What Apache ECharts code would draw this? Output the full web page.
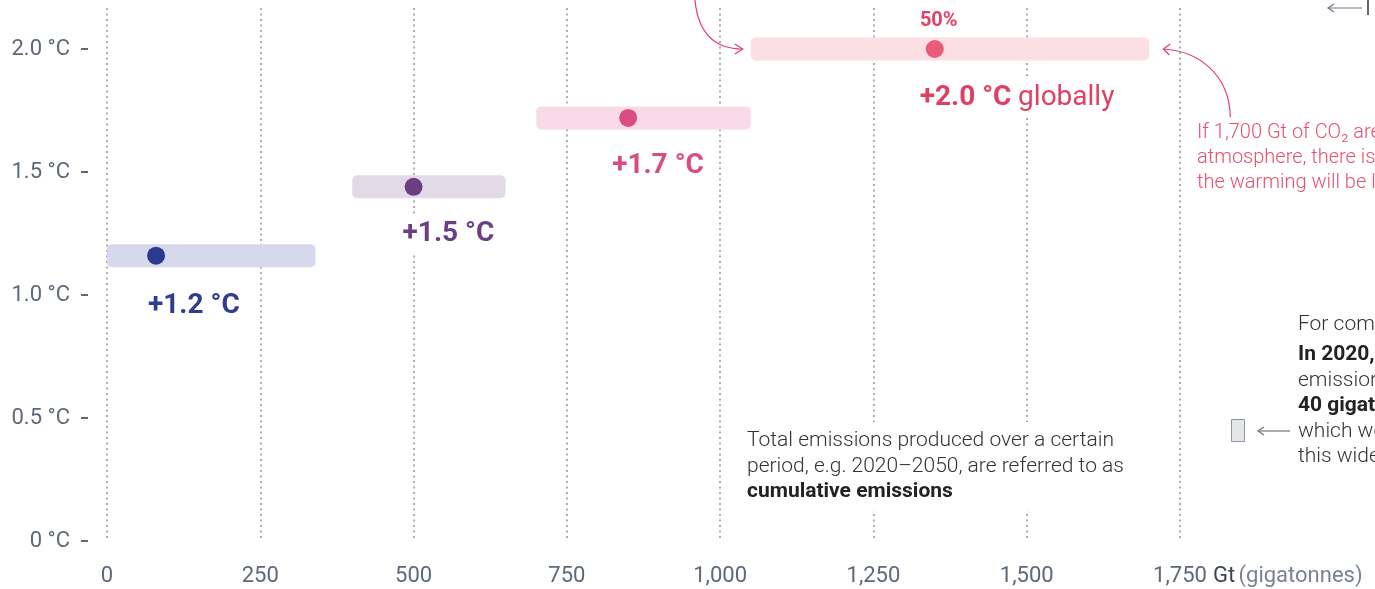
<!DOCTYPE html>
<html>
<head>
<meta charset="utf-8">
<script src="https://cdn.jsdelivr.net/npm/echarts@6/dist/echarts.min.js"></script>
<style>
html,body{margin:0;padding:0;background:#fff;}
#c{width:1375px;height:589px;}
</style>
</head>
<body>
<div id="c"></div>
<script>
// ---- data ----
const rangeLow  = [0, 400, 700, 1050];        // Gt, start of range
const rangeHigh = [340, 650, 1050, 1700];     // Gt, end of range
const centerGt  = [80, 500, 850, 1350];       // Gt, dot position
const warming   = [1.16, 1.44, 1.72, 2.0];    // °C
const labelMain = ['+1.2 °C', '+1.5 °C', '+1.7 °C', '+2.0 °C'];
const labelExtra = ['', '', '', 'globally'];
const probLabels = ['', '', '', '50%'];
const xTicks = [0, 250, 500, 750, 1000, 1250, 1500, 1750];
const yTicks = [0, 0.5, 1.0, 1.5, 2.0];

// ---- styles ----
const rangeColors = ['#d6d9ec', '#e3dae7', '#f8dbe6', '#fcdfe4'];
const dotColors   = ['#2b3a90', '#6b3e84', '#d94d83', '#e95b77'];
const textColors  = ['#2e3d8f', '#6b3f85', '#d94c83', '#e23d62'];
const labelShiftX = [-5, -8, -13, -12];   // label placement relative to the dot box (px)
const labelShiftY = [59, 56, 57, 58];
const FONT = 'Roboto, "Noto Sans", sans-serif';
const AXIS_GRAY = '#5d6878';
const RED = '#e4406a';

const chart = echarts.init(document.getElementById('c'), null, {renderer: 'canvas'});

const rangeData = rangeLow.map((lo, i) => [lo, rangeHigh[i], warming[i]]);
const dotData = centerGt.map((x, i) => ({
  value: [x, warming[i]],
  itemStyle: {color: dotColors[i], opacity: 1},
  label: {
    position: [labelShiftX[i], labelShiftY[i]],
    formatter: labelExtra[i] ? '{b|' + labelMain[i] + '}  {r|' + labelExtra[i] + '}' : '{b|' + labelMain[i] + '}',
    rich: {
      b: {fontFamily: FONT, fontSize: 28, fontWeight: 'bold', color: textColors[i], opacity: 1},
      r: {fontFamily: FONT, fontSize: 28, fontWeight: 'normal', color: textColors[i], opacity: 1}
    }
  }
}));
const probData = centerGt.map((x, i) => ({value: [x, warming[i]], name: probLabels[i]}));

const yMax = 2.1667;

chart.setOption({
  animation: false,
  grid: {left: 107, width: 1073, top: 8, bottom: 48, containLabel: false},
  xAxis: {
    type: 'value', min: 0, max: 1750, interval: 250,
    axisLine: {show: false}, axisTick: {show: false},
    axisLabel: {
      margin: 24, fontFamily: FONT, fontSize: 22, fontWeight: 'normal', color: AXIS_GRAY,
      formatter: v => v.toLocaleString('en-US')
    },
    splitLine: {show: true, lineStyle: {color: '#8a93a3', width: 1.5, type: [2, 3.5]}},
    name: '{a|Gt} {b|(gigatonnes)}',
    nameLocation: 'end', nameGap: 33,
    nameTextStyle: {
      verticalAlign: 'middle', padding: [70, 0, 0, 0],
      rich: {
        a: {fontFamily: FONT, fontSize: 22, color: '#3d4450'},
        b: {fontFamily: FONT, fontSize: 22, fontWeight: 'normal', color: '#7a8291'}
      }
    }
  },
  yAxis: [{
    type: 'value', min: 0, max: yMax,
    axisLine: {show: false}, axisTick: {show: false}, splitLine: {show: false},
    axisLabel: {
      customValues: yTicks, margin: 37,
      fontFamily: FONT, fontSize: 22, fontWeight: 'normal', color: AXIS_GRAY,
      formatter: v => (v === 0 ? '0' : v.toFixed(1)) + ' °C'
    }
  }, {
    type: 'value', min: 0, max: yMax, position: 'left', offset: 19,
    axisLine: {show: false}, splitLine: {show: false},
    axisLabel: {show: false},
    axisTick: {show: true, customValues: yTicks, length: 7, inside: false, lineStyle: {color: AXIS_GRAY, width: 2}}
  }],
  series: [{
    type: 'custom',
    z: 1,
    data: rangeData,
    clip: false,
    renderItem: function (params, api) {
      const s = api.coord([api.value(0), api.value(2)]);
      const e = api.coord([api.value(1), api.value(2)]);
      return {
        type: 'rect',
        shape: {x: s[0], y: s[1] - 11.5, width: e[0] - s[0], height: 23, r: 5},
        style: {fill: rangeColors[params.dataIndex]}
      };
    }
  }, {
    type: 'scatter',
    z: 3,
    symbolSize: 18,
    data: dotData,
    clip: false,
    itemStyle: {opacity: 1},
    label: {
      show: true, align: 'left', verticalAlign: 'middle',
      backgroundColor: '#fff', padding: [6, 6]
    },
    emphasis: {disabled: true}
  }, {
    type: 'scatter',
    z: 4,
    symbolSize: 0,
    data: probData,
    clip: false,
    itemStyle: {opacity: 1},
    label: {
      show: true, position: 'top', distance: 18, offset: [4, 0],
      formatter: p => p.name,
      fontFamily: FONT, fontSize: 20, fontWeight: 'bold', color: RED
    },
    emphasis: {disabled: true}
  }]
});

// ---- annotations anchored to the chart ----
const leftEnd = chart.convertToPixel({gridIndex: 0}, [rangeLow[3], warming[3]]);
const rightEnd = chart.convertToPixel({gridIndex: 0}, [rangeHigh[3], warming[3]]);

const lx = leftEnd[0] - 8, ly = leftEnd[1];
const rx = rightEnd[0] + 14, ry = rightEnd[1];

const bodyText = {fontFamily: FONT, fontSize: 21, fontWeight: 300};

chart.setOption({
  graphic: [
    // arrow to left end of the 2.0 °C range
    {type: 'bezierCurve', z: 100, shape: {x1: lx - 48, y1: -2, cpx1: lx - 45, cpy1: ly - 12, cpx2: lx - 25, cpy2: ly, x2: lx, y2: ly},
     style: {stroke: RED, lineWidth: 1.2, fill: null}},
    {type: 'polyline', z: 100, shape: {points: [[lx - 8, ly - 5], [lx, ly], [lx - 8, ly + 5]]},
     style: {stroke: RED, lineWidth: 1.2, fill: null}},
    // arrow to right end of the 2.0 °C range
    {type: 'bezierCurve', z: 100, shape: {x1: rx + 67, y1: ry + 68, cpx1: rx + 66, cpy1: ry + 25, cpx2: rx + 35, cpy2: ry + 2, x2: rx, y2: ry},
     style: {stroke: RED, lineWidth: 1.2, fill: null}},
    {type: 'polyline', z: 100, shape: {points: [[rx + 7, ry - 5], [rx, ry], [rx + 6, ry + 6]]},
     style: {stroke: RED, lineWidth: 1.2, fill: null}},
    // red explanatory text
    {type: 'text', z: 100, x: 1197, y: 120.5,
     style: Object.assign({}, bodyText, {fontSize: 20, fill: '#e8506e', lineHeight: 25,
       text: 'If 1,700 Gt of CO₂ are released into the\natmosphere, there is a 50% probability that\nthe warming will be limited to 2 °C'})},
    // cumulative emissions note
    {type: 'text', z: 100, x: 741, y: 422,
     style: Object.assign({}, bodyText, {fill: '#333', lineHeight: 25.5, backgroundColor: '#fff', padding: [6, 6],
       text: 'Total emissions produced over a certain\nperiod, e.g. 2020–2050, are referred to as\n{b|cumulative emissions}',
       rich: {b: {fontFamily: FONT, fontSize: 21, fontWeight: 'bold', fill: '#222', lineHeight: 25.5}}})},
    // comparison note
    {type: 'text', z: 100, x: 1298, y: 312.5,
     style: Object.assign({}, bodyText, {fill: '#333', lineHeight: 25, text: 'For comparison:'})},
    {type: 'text', z: 100, x: 1298, y: 342,
     style: Object.assign({}, bodyText, {fill: '#333', lineHeight: 25.5,
       text: '{b|In 2020,} global CO₂\nemissions amounted to\n{b|40 gigatonnes},\nwhich would be\nthis wide.',
       rich: {b: {fontFamily: FONT, fontSize: 21, fontWeight: 'bold', fill: '#222', lineHeight: 25.5}}})},
    // small 40 Gt box and arrow
    {type: 'rect', z: 100, shape: {x: 1231.5, y: 419.5, width: 13, height: 22},
     style: {fill: '#e4e6ea', stroke: '#8f96a2', lineWidth: 1}},
    {type: 'line', z: 100, shape: {x1: 1258, y1: 431, x2: 1290, y2: 431}, style: {stroke: '#6f7683', lineWidth: 1.2}},
    {type: 'polyline', z: 100, shape: {points: [[1264, 427], [1258, 431], [1264, 435]]}, style: {stroke: '#6f7683', lineWidth: 1.2, fill: null}},
    // top-right arrow
    {type: 'line', z: 100, shape: {x1: 1328, y1: 8, x2: 1362, y2: 8}, style: {stroke: '#6f7683', lineWidth: 1.2}},
    {type: 'polyline', z: 100, shape: {points: [[1334, 4], [1328, 8], [1334, 12]]}, style: {stroke: '#6f7683', lineWidth: 1.2, fill: null}},
    {type: 'line', z: 100, shape: {x1: 1368, y1: 0, x2: 1368, y2: 15}, style: {stroke: '#333', lineWidth: 1.5}}
  ]
});
</script>
</body>
</html>
